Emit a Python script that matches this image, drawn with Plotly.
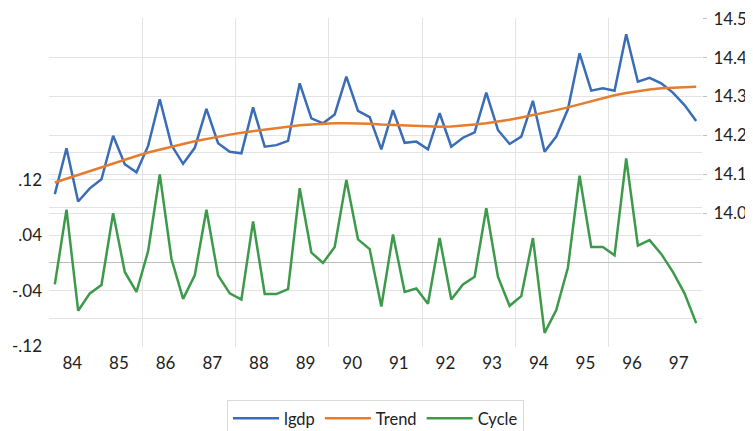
import plotly.graph_objects as go

# ---- data (quarterly, 1984Q1 .. 1997Q4) ----
year_labels = ["84", "85", "86", "87", "88", "89", "90", "91", "92", "93", "94", "95", "96", "97"]

lgdp = [14.049, 14.167, 14.030, 14.064, 14.087, 14.199, 14.126, 14.105,
        14.173, 14.293, 14.175, 14.127, 14.168, 14.268, 14.180, 14.158,
        14.154, 14.272, 14.171, 14.175, 14.186, 14.334, 14.244, 14.231,
        14.254, 14.351, 14.263, 14.247, 14.164, 14.265, 14.181, 14.184,
        14.164, 14.257, 14.171, 14.194, 14.208, 14.310, 14.214, 14.178,
        14.197, 14.289, 14.158, 14.197, 14.267, 14.411, 14.315, 14.321,
        14.315, 14.460, 14.338, 14.348, 14.334, 14.310, 14.278, 14.237]

trend = [14.079, 14.089, 14.099, 14.109, 14.119, 14.129, 14.138, 14.147,
         14.156, 14.164, 14.171, 14.178, 14.185, 14.191, 14.197, 14.202,
         14.207, 14.211, 14.215, 14.219, 14.223, 14.226, 14.228, 14.230,
         14.231, 14.231, 14.231, 14.230, 14.228, 14.227, 14.225, 14.224,
         14.223, 14.222, 14.223, 14.225, 14.228, 14.231, 14.235, 14.240,
         14.246, 14.252, 14.258, 14.265, 14.272, 14.280, 14.288, 14.296,
         14.303, 14.309, 14.314, 14.318, 14.321, 14.323, 14.324, 14.325]

cycle = [-0.031, 0.077, -0.069, -0.044, -0.032, 0.072, -0.013, -0.042,
         0.017, 0.128, 0.006, -0.052, -0.018, 0.077, -0.018, -0.044,
         -0.053, 0.060, -0.045, -0.045, -0.038, 0.108, 0.015, 0.000,
         0.023, 0.120, 0.034, 0.020, -0.063, 0.041, -0.042, -0.037,
         -0.059, 0.036, -0.053, -0.031, -0.020, 0.079, -0.020, -0.062,
         -0.048, 0.036, -0.101, -0.068, -0.007, 0.126, 0.023, 0.023,
         0.011, 0.151, 0.025, 0.033, 0.013, -0.013, -0.044, -0.087]

left_ticks = [-0.12, -0.04, 0.04, 0.12]
left_ticktext = ["-.12", "-.04", ".04", ".12"]
left_grid = [-0.08, -0.04, 0.04, 0.08, 0.12, 0.16]
right_ticks = [14.0, 14.1, 14.2, 14.3, 14.4, 14.5]

n = len(lgdp)
idx = list(range(n))
label_pos = [4 * k + 1.5 for k in range(len(year_labels))]
vgrid_pos = [4 * k - 0.5 for k in range(2, len(year_labels), 2)]

FONT = "Lato, 'Open Sans', sans-serif"
GRID = "#e3e3e3"
TXT = "#222222"

fig = go.Figure()
fig.add_trace(go.Scatter(x=idx, y=lgdp, name="lgdp", mode="lines",
                         line=dict(color="#3A6DB5", width=2.5), yaxis="y2"))
fig.add_trace(go.Scatter(x=idx, y=trend, name="Trend", mode="lines",
                         line=dict(color="#E67C2E", width=2.5), yaxis="y2"))
fig.add_trace(go.Scatter(x=idx, y=cycle, name="Cycle", mode="lines",
                         line=dict(color="#3D9A4B", width=2.5), yaxis="y"))
# helper (empty) trace so the grid-only overlay axes are drawn
fig.add_trace(go.Scatter(x=[], y=[], xaxis="x2", yaxis="y3", showlegend=False, hoverinfo="skip"))

xr = [-0.5, n - 0.5]
yr_left = [-0.1215, 0.354]
yr_right = [13.656, 14.5018]

fig.update_layout(
    width=745, height=423,
    margin=dict(l=41, r=51, t=10, b=84, autoexpand=False),
    paper_bgcolor="white", plot_bgcolor="white",
    font=dict(family=FONT, size=17, color=TXT),
    xaxis=dict(range=xr, tickmode="array", tickvals=label_pos, ticktext=year_labels,
               showgrid=False, zeroline=False, showline=False, ticks="",
               automargin=False, ticklabelstandoff=4,
               tickfont=dict(size=17, color=TXT)),
    xaxis2=dict(range=xr, overlaying="x", tickmode="array", tickvals=vgrid_pos,
                showgrid=True, gridcolor=GRID, gridwidth=1, showticklabels=False,
                zeroline=False, showline=False, ticks="", automargin=False),
    yaxis=dict(range=yr_left, tickmode="array", tickvals=left_ticks, ticktext=left_ticktext,
               showgrid=False, zeroline=False, showline=False, ticks="",
               automargin=False, ticklabelstandoff=6, ticklabeloverflow="allow",
               tickfont=dict(size=17, color=TXT)),
    yaxis3=dict(range=yr_left, overlaying="y", tickmode="array", tickvals=left_grid,
                showgrid=True, gridcolor=GRID, gridwidth=1, showticklabels=False,
                zeroline=True, zerolinecolor="#bdbdbd", zerolinewidth=1.2,
                showline=False, ticks="", automargin=False),
    yaxis2=dict(range=yr_right, overlaying="y", side="right", tickmode="array",
                tickvals=right_ticks, tickformat=".1f",
                showgrid=True, gridcolor=GRID, gridwidth=1, zeroline=False, showline=False,
                ticks="outside", ticklen=4, tickcolor="#bfbfbf", automargin=False,
                ticklabelstandoff=3, ticklabeloverflow="allow",
                tickfont=dict(size=17, color=TXT)),
    legend=dict(orientation="h", x=0.5, xanchor="center", y=-0.161, yanchor="top",
                bordercolor="#d9d9d9", borderwidth=1, font=dict(size=16.5, color=TXT),
                itemwidth=46),
    showlegend=True,
)

fig.write_html("out.html")
